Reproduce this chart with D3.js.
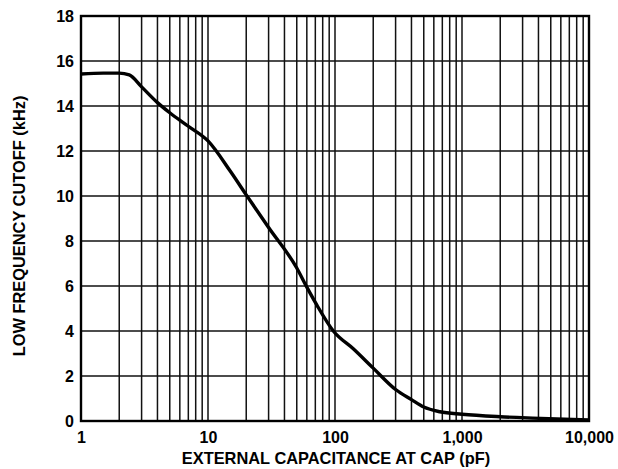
<!DOCTYPE html>
<html>
<head>
<meta charset="utf-8">
<script src="https://cdn.jsdelivr.net/npm/d3@7"></script>
<style>
  body { margin: 0; background: #fff; }
  text { font-family: "Liberation Sans", Arial, sans-serif; font-weight: bold; fill: #000; }
</style>
</head>
<body>
<div id="chart"></div>
<script>
// capacitance (pF) and cutoff (kHz)
var capValues = [1, 1.5, 2, 2.4, 3, 4, 5, 7, 10, 15, 20, 30, 50, 60, 72, 97, 140, 200, 300, 400, 500, 670, 1000, 2000, 3600, 10000];
var cutoffValues = [15.42, 15.46, 15.46, 15.38, 14.85, 14.15, 13.7, 13.1, 12.45, 11.1, 10.05, 8.6, 6.8, 5.95, 5.15, 4.0, 3.2, 2.35, 1.4, 0.95, 0.62, 0.41, 0.3, 0.19, 0.13, 0.05];
var xTickValues = [1, 10, 100, 1000, 10000];
var xTickLabels = ["1", "10", "100", "1,000", "10,000"];
var yTickValues = [0, 2, 4, 6, 8, 10, 12, 14, 16, 18];

var width = 618, height = 469;
var margin = {top: 16, right: 29, bottom: 48, left: 81};
var innerW = width - margin.left - margin.right;
var innerH = height - margin.top - margin.bottom;

var svg = d3.select("#chart").append("svg")
    .attr("width", width)
    .attr("height", height);
var g = svg.append("g")
    .attr("transform", "translate(" + margin.left + "," + margin.top + ")");

var x = d3.scaleLog().domain([1, 10000]).range([0, innerW]);
var y = d3.scaleLinear().domain([0, 18]).range([innerH, 0]);

// minor + major vertical grid lines (2..9 in each decade, plus decades)
var vGrid = [];
for (var d = 1; d < 10000; d *= 10) {
  for (var k = 2; k <= 9; k++) vGrid.push(d * k);
}
vGrid.push(10, 100, 1000);
g.selectAll(".vgrid")
    .data(vGrid)
  .enter().append("line")
    .attr("x1", function(d) { return x(d); })
    .attr("x2", function(d) { return x(d); })
    .attr("y1", 0).attr("y2", innerH)
    .attr("stroke", "#111")
    .attr("stroke-width", 1.5);

g.selectAll(".hgrid")
    .data(yTickValues.slice(1, -1))
  .enter().append("line")
    .attr("x1", 0).attr("x2", innerW)
    .attr("y1", function(d) { return y(d); })
    .attr("y2", function(d) { return y(d); })
    .attr("stroke", "#111")
    .attr("stroke-width", 1.5);

// frame
g.append("rect")
    .attr("width", innerW).attr("height", innerH)
    .attr("fill", "none")
    .attr("stroke", "#000")
    .attr("stroke-width", 2.4);

// axes (labels only)
var xAxis = g.append("g")
    .attr("transform", "translate(0," + innerH + ")")
    .call(d3.axisBottom(x).tickValues(xTickValues).tickSize(0).tickPadding(11)
      .tickFormat(function(d, i) { return xTickLabels[i]; }));
var yAxis = g.append("g")
    .call(d3.axisLeft(y).tickValues(yTickValues).tickSize(0).tickPadding(7));
[xAxis, yAxis].forEach(function(a) {
  a.select(".domain").remove();
  a.selectAll("text").style("font-size", "16px")
    .style("font-family", "'Liberation Sans', Arial, sans-serif").style("font-weight", "bold");
});

// curve
var data = capValues.map(function(c, i) { return {c: c, v: cutoffValues[i]}; });
var line = d3.line()
    .x(function(d) { return x(d.c); })
    .y(function(d) { return y(d.v); })
    .curve(d3.curveMonotoneX);
g.append("path")
    .datum(data)
    .attr("d", line)
    .attr("fill", "none")
    .attr("stroke", "#000")
    .attr("stroke-width", 3.4)
    .attr("stroke-linejoin", "round");

// axis titles
svg.append("text")
    .attr("x", 336)
    .attr("y", 464)
    .attr("text-anchor", "middle")
    .style("font-size", "16.4px")
    .text("EXTERNAL CAPACITANCE AT CAP (pF)");
svg.append("text")
    .attr("transform", "translate(25,226) rotate(-90)")
    .attr("text-anchor", "middle")
    .style("font-size", "16.4px")
    .text("LOW FREQUENCY CUTOFF (kHz)");
</script>
</body>
</html>
